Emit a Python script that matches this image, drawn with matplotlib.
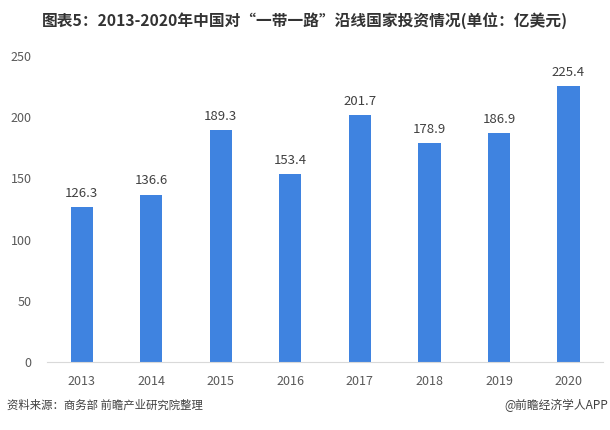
import matplotlib.pyplot as plt
import numpy as np

plt.rcParams['font.family'] = ['Noto Sans CJK SC', 'DejaVu Sans']

years = ['2013', '2014', '2015', '2016', '2017', '2018', '2019', '2020']
invest = [126.3, 136.6, 189.3, 153.4, 201.7, 178.9, 186.9, 225.4]

fig = plt.figure(figsize=(6.1, 4.3), dpi=100)
ax = fig.add_axes([0.077, 0.158, 0.912, 0.712])

x = np.arange(len(years))
ax.bar(x, invest, width=0.32, color='#3F83E0', zorder=2)

# Value labels above bars
for xi, v in zip(x, invest):
    ax.text(xi, v + 6, f'{v}', ha='center', va='bottom', fontsize=9.5, color='#404040')

ax.set_xlim(-0.5, len(years) - 0.5)
ax.set_ylim(0, 250)
ax.set_yticks(np.arange(0, 251, 50))
ax.set_xticks(x)
ax.set_xticklabels(years)
ax.tick_params(axis='both', length=0, labelsize=9, colors='#595959')
ax.tick_params(axis='x', pad=9)
ax.tick_params(axis='y', pad=11)

for side in ['top', 'right', 'left']:
    ax.spines[side].set_visible(False)
ax.spines['bottom'].set_color('#D9D9D9')

fig.text(0.5, 0.953, '图表5：2013-2020年中国对“一带一路”沿线国家投资情况(单位：亿美元)',
         ha='center', va='center', fontsize=11.3, fontweight='bold', color='#333333')
fig.text(0.012, 0.058, '资料来源：商务部 前瞻产业研究院整理', ha='left', va='center',
         fontsize=8.2, color='#404040')
fig.text(0.997, 0.058, '@前瞻经济学人APP', ha='right', va='center',
         fontsize=8.5, color='#404040')

fig.savefig('out.png', dpi=100)
